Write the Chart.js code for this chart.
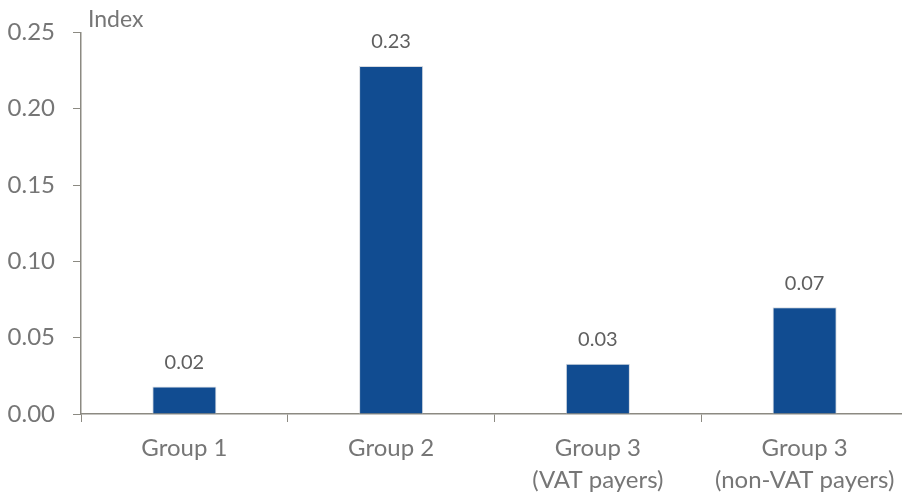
<!DOCTYPE html>
<html>
<head>
<meta charset="utf-8">
<script src="https://cdn.jsdelivr.net/npm/chart.js@4/dist/chart.umd.min.js"></script>
<style>
  html, body { margin: 0; padding: 0; background: #fff; overflow: hidden; }
  #wrap { width: 908px; height: 494px; }
</style>
</head>
<body>
<div id="wrap"><canvas id="chart"></canvas></div>
<script>
// Index by taxpayer group
const categories = [
  'Group 1',
  'Group 2',
  ['Group 3', '(VAT payers)'],
  ['Group 3', '(non-VAT payers)']
];
const indexValues = [0.018, 0.228, 0.033, 0.070];
const yTicks = [0, 0.05, 0.10, 0.15, 0.20, 0.25];
const axisTitle = 'Index';

const FONT = 'Lato, "Open Sans", sans-serif';
const GREY = '#767676';
const AXIS = '#8C8A82';

// Writes each bar's value above it and the unit caption over the y axis
const annotations = {
  id: 'annotations',
  afterDatasetsDraw(chart) {
    const ctx = chart.ctx;
    const meta = chart.getDatasetMeta(0);
    ctx.save();
    ctx.font = '20px ' + FONT;
    ctx.fillStyle = '#5F5F5F';
    ctx.textAlign = 'center';
    ctx.textBaseline = 'middle';
    meta.data.forEach((bar, i) => {
      ctx.fillText(indexValues[i].toFixed(2), bar.x, bar.y - 24);
    });
    ctx.font = '23px ' + FONT;
    ctx.fillStyle = GREY;
    ctx.textAlign = 'left';
    ctx.textBaseline = 'alphabetic';
    ctx.fillText(axisTitle, chart.chartArea.left + 7, 27);
    ctx.restore();
  }
};

new Chart(document.getElementById('chart'), {
  type: 'bar',
  data: {
    labels: categories,
    datasets: [{
      data: indexValues,
      backgroundColor: '#114C91',
      borderColor: '#D6DAE0',
      borderWidth: 1,
      barPercentage: 0.31,
      categoryPercentage: 1
    }]
  },
  options: {
    responsive: true,
    maintainAspectRatio: false,
    animation: false,
    layout: { padding: { top: 23, left: 8, right: 0, bottom: 0 } },
    plugins: {
      legend: { display: false },
      tooltip: { enabled: false }
    },
    scales: {
      x: {
        afterFit(scale) { scale.height = 80; },
        grid: {
          display: true,
          drawOnChartArea: false,
          drawTicks: true,
          tickLength: 8,
          color: AXIS,
          offset: true
        },
        border: { display: true, color: AXIS, width: 1.5 },
        ticks: {
          color: GREY,
          font: { family: FONT, size: 24, lineHeight: 1.3 },
          padding: 11,
          maxRotation: 0,
          autoSkip: false
        }
      },
      y: {
        min: 0,
        max: 0.25,
        afterFit(scale) { scale.width = 73; },
        afterBuildTicks(scale) {
          scale.ticks = yTicks.map(v => ({ value: v }));
        },
        grid: {
          display: true,
          drawOnChartArea: false,
          drawTicks: true,
          tickLength: 8,
          color: AXIS
        },
        border: { display: true, color: AXIS, width: 1.5 },
        ticks: {
          color: GREY,
          font: { family: FONT, size: 24 },
          padding: 18,
          callback: v => Number(v).toFixed(2)
        }
      }
    }
  },
  plugins: [annotations]
});
</script>
</body>
</html>
